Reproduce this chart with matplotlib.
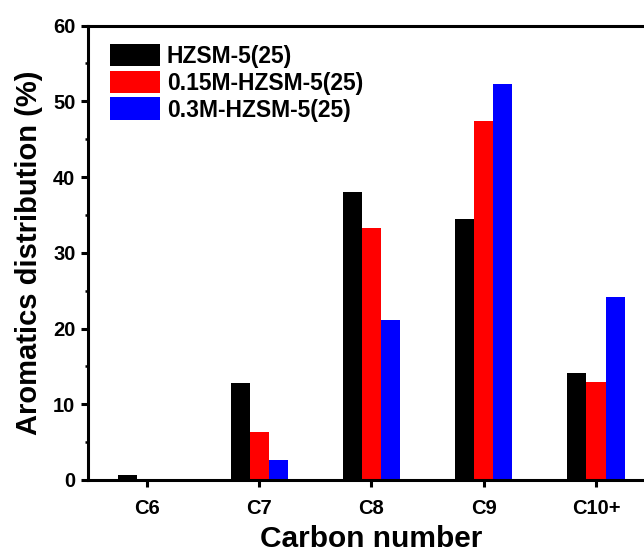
import numpy as np
import matplotlib
matplotlib.use("Agg")
import matplotlib.pyplot as plt
from matplotlib.ticker import MultipleLocator

plt.rcParams['font.family'] = ['Liberation Sans', 'DejaVu Sans']
plt.rcParams['font.weight'] = 'bold'

# carbon number groups and aromatics distribution (%)
categories = ['C6', 'C7', 'C8', 'C9', 'C10+']
hzsm = [0.6, 12.85, 38.0, 34.5, 14.1]
hzsm_015 = [0.0, 6.4, 33.3, 47.4, 13.0]
hzsm_03 = [0.0, 2.7, 21.1, 52.3, 24.1]
labels = ['HZSM-5(25)', '0.15M-HZSM-5(25)', '0.3M-HZSM-5(25)']
colors = ['#000000', '#ff0000', '#0000ff']

fig = plt.figure(figsize=(6.44, 5.56), dpi=100)
ax = fig.add_axes([0.1366, 0.1367, 0.8804, 0.8174])

x = np.arange(len(categories))
w = 0.17
for i, (vals, lab, c) in enumerate(zip([hzsm, hzsm_015, hzsm_03], labels, colors)):
    ax.bar(x + (i - 1) * w, vals, width=w, color=c, label=lab, linewidth=0)

ax.set_xlim(-0.525, 4.525)
ax.set_ylim(0, 60)
ax.set_xticks(x)
ax.set_xticklabels(categories)
ax.yaxis.set_major_locator(MultipleLocator(10))
ax.yaxis.set_minor_locator(MultipleLocator(5))

for s in ax.spines.values():
    s.set_linewidth(2.2)
ax.tick_params(axis='both', which='major', direction='out', length=5, width=2.2,
               labelsize=14.5)
ax.tick_params(axis='x', which='major', pad=9)
ax.tick_params(axis='y', which='major', pad=4)
ax.tick_params(axis='y', which='minor', direction='out', length=2.5, width=1.8)
ax.tick_params(top=False, right=False)

ax.set_xlabel('Carbon number', fontsize=21.5, fontweight='bold', labelpad=5)
ax.set_ylabel('Aromatics distribution (%)', fontsize=21, fontweight='bold', labelpad=7)

ax.legend(loc='upper left', bbox_to_anchor=(0.038, 0.96), frameon=False,
          fontsize=16.5, handlelength=2.2, handleheight=1.15,
          labelspacing=0.12, handletextpad=0.3, borderpad=0, borderaxespad=0)

fig.savefig('out.png', dpi=100)
